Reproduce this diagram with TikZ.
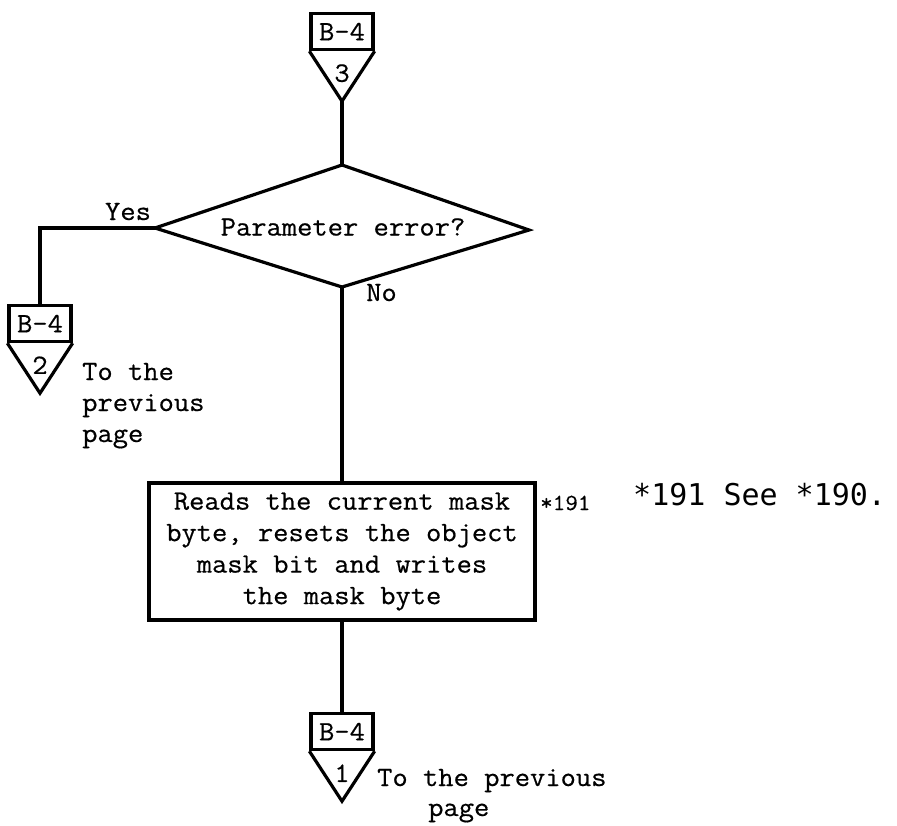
\documentclass[tikz,border=0pt]{standalone}
\usepackage{fontspec}
\setmonofont[FakeStretch=1.06, FakeBold=0.5]{Latin Modern Mono}
\newfontfamily\sansmono{DejaVu Sans Mono}
\usetikzlibrary{calc}
\newcommand\offpage[4]{%
  \node[conbox, anchor=north] (#1) at (#2,#3) {B-4};
  \coordinate (#1apex) at ($(#1.south)+(0,50)$);
  \draw[line] (#1.south west) -- (#1apex) -- (#1.south east);
  \node[tw] (#1num) at ($(#1.south)+(0,22)$) {#4};
}
\begin{document}
\begin{tikzpicture}[x=1pt,y=-1pt,
  line/.style={line width=3.2pt, line join=miter},
  tw/.style={font=\ttfamily\fontsize{28}{31.5}\selectfont, inner sep=0pt},
  conbox/.style={draw, line width=3.2pt, minimum width=62pt, minimum height=36pt, inner sep=0pt, tw},
  procbox/.style={draw, line width=3.2pt, minimum width=386pt, minimum height=137pt, align=center, tw},
  note/.style={font=\sansmono\fontsize{30}{36}\selectfont, inner sep=0pt, anchor=base west},
  small/.style={font=\ttfamily\fontsize{23}{26}\selectfont, inner sep=0pt, anchor=base west}
]
\useasboundingbox (0,0) rectangle (897,825);

% off-page connectors
\offpage{c3}{342}{12}{3}
\offpage{c2}{40}{304}{2}
\offpage{c1}{342}{712}{1}

% decision diamond
\coordinate (dt) at (342,165);
\coordinate (db) at (342,287);
\coordinate (dl) at (155,228);
\coordinate (dr) at (529,230);
\draw[line] (dt) -- (dr) -- (db) -- (dl) -- cycle;
\node[tw] (dtext) at (343,227) {Parameter error?};

% process box
\node[procbox] (proc) at (342,551.5) {Reads the current mask\\byte, resets the object\\mask bit and writes\\the mask byte};

% connectors
\draw[line] (c3apex) -- (dt);
\draw[line] (dl) -| (c2.north);
\draw[line] (db) -- (proc.north);
\draw[line] (proc.south) -- (c1.north);

% labels
\node[tw, anchor=base] (yes) at (128,220) {Yes};
\node[tw, anchor=base west] (no) at (366,301) {No};

\node[tw, anchor=base west] (t2a) at (82,380) {To the};
\node[tw, anchor=base west] (t2b) at (82,411) {previous};
\node[tw, anchor=base west] (t2c) at (82,442) {page};

\node[tw, anchor=base west] (t1a) at (377,786) {To the previous};
\node[tw, anchor=base west] (t1b) at (428,816) {page};

\node[small] (ref191) at (540,510) {*191};
\node[note] (see190) at (633,505) {*191 See *190.};
\end{tikzpicture}
\end{document}
